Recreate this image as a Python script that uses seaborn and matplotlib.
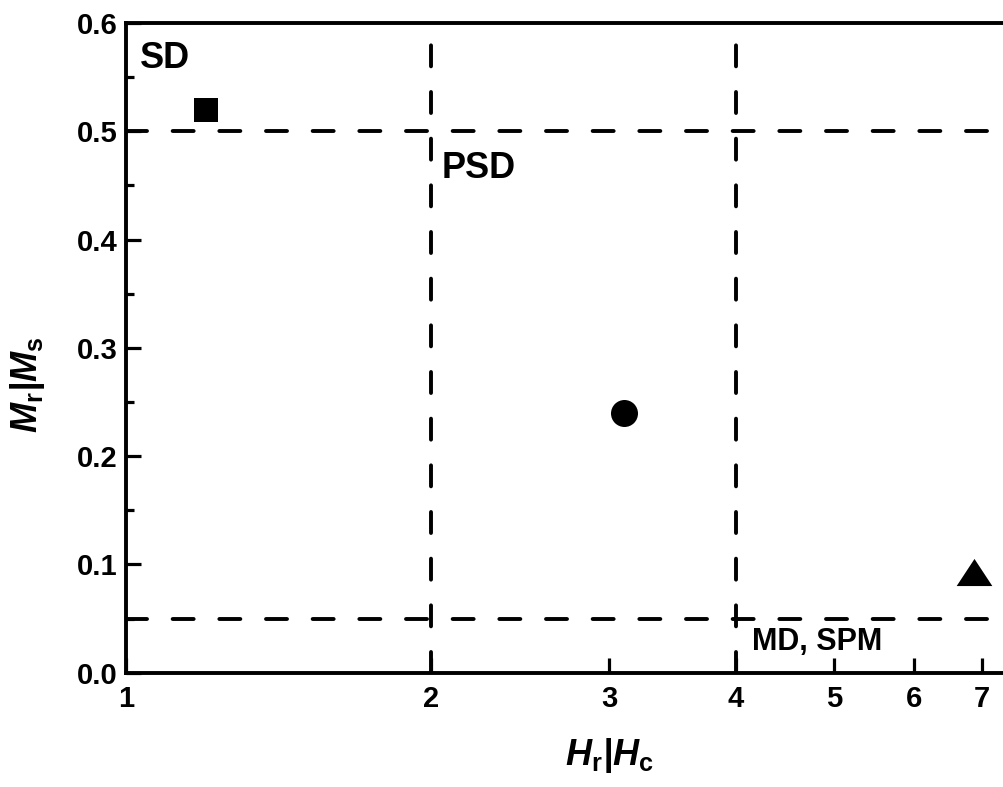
import matplotlib
matplotlib.use("Agg")
import matplotlib.pyplot as plt
from matplotlib.ticker import FixedLocator, NullLocator, MultipleLocator, FormatStrFormatter
import seaborn as sns
import pandas as pd

# Day-plot data: coercivity ratio vs remanence ratio for three samples
hr_hc = [1.2, 3.1, 6.87]
mr_ms = [0.52, 0.24, 0.093]
sample = ["square", "circle", "triangle"]

# domain-state boundaries
hr_hc_limits = [2, 4]
mr_ms_limits = [0.5, 0.05]

# region labels
region_names = ["SD", "PSD", "MD, SPM"]
region_x = [1.032, 2.05, 4.145]
region_y = [0.558, 0.457, 0.021]
region_size = [26, 26, 22]

x_ticks = [1, 2, 3, 4, 5, 6, 7]
y_ticks = [0.0, 0.1, 0.2, 0.3, 0.4, 0.5, 0.6]

sns.set_theme(style="ticks")
plt.rcParams["font.family"] = ["Liberation Sans", "DejaVu Sans"]
plt.rcParams["font.weight"] = "bold"
plt.rcParams["text.color"] = "black"
plt.rcParams["axes.labelcolor"] = "black"
plt.rcParams["xtick.color"] = "black"
plt.rcParams["ytick.color"] = "black"
plt.rcParams["mathtext.fontset"] = "custom"
plt.rcParams["mathtext.rm"] = "Liberation Sans:bold"
plt.rcParams["mathtext.bf"] = "Liberation Sans:bold"
plt.rcParams["mathtext.it"] = "Liberation Sans:bold:italic"
plt.rcParams["mathtext.bfit"] = "Liberation Sans:bold:italic"

fig = plt.figure(figsize=(10.04, 7.87), dpi=100)
# the axis runs past the right edge of the figure
ax = fig.add_axes([126 / 1004, (787 - 672.7) / 787, 915 / 1004, 649.7 / 787])
ax.set_xscale("log")
ax.set_xlim(1, 8)
ax.set_ylim(0, 0.6)

df = pd.DataFrame({"hr_hc": hr_hc, "mr_ms": mr_ms, "sample": sample})
tri = [(0, 0.76), (-1, -0.76), (1, -0.76)]
marker_style = {"square": ("s", 275), "circle": ("o", 378), "triangle": (tri, 660)}
for name, sub in df.groupby("sample", sort=False):
    m, s = marker_style[name]
    sns.scatterplot(data=sub, x="hr_hc", y="mr_ms", marker=m, s=s, color="black",
                    linewidth=0, ax=ax, zorder=5, legend=False)

dash_kw = dict(color="black", lw=2.8, dashes=(5.4, 6.6), dash_capstyle="round", zorder=3)
for xv in hr_hc_limits:
    ax.axvline(xv, **dash_kw)
for yv in mr_ms_limits:
    ax.axhline(yv, **dash_kw)

for name, xv, yv, fs in zip(region_names, region_x, region_y, region_size):
    ax.text(xv, yv, name, fontsize=fs, fontweight="bold", va="baseline", ha="left",
            color="black")

ax.xaxis.set_major_locator(FixedLocator(x_ticks))
ax.set_xticklabels([str(t) for t in x_ticks])
ax.xaxis.set_minor_locator(NullLocator())
ax.yaxis.set_major_locator(FixedLocator(y_ticks))
ax.yaxis.set_major_formatter(FormatStrFormatter("%.1f"))
ax.yaxis.set_minor_locator(MultipleLocator(0.05))

ax.tick_params(axis="both", which="major", direction="in", length=11, width=2.3,
               labelsize=21, color="black", labelcolor="black")
ax.tick_params(axis="x", which="major", pad=9, top=False, bottom=True)
ax.tick_params(axis="y", which="major", pad=6, left=True, right=False)
ax.tick_params(axis="y", which="minor", direction="in", length=6, width=2.3, left=True, right=False)
for lab in ax.get_xticklabels() + ax.get_yticklabels():
    lab.set_fontweight("bold")

for side in ["left", "bottom", "top"]:
    ax.spines[side].set_linewidth(2.8)
    ax.spines[side].set_color("black")
ax.spines["right"].set_visible(False)

ax.set_xlabel("")
ax.set_ylabel("")
fig.text((126 + 305 * 1.585) / 1004, 1 - 765 / 787,
         r"$\mathbfit{H}_{\mathbf{r}}\mathbfit{|H}_{\mathbf{c}}$",
         fontsize=26, ha="center", va="baseline", color="black")
fig.text(28 / 1004, 1 - 385 / 787,
         r"$\mathbfit{M}_{\mathbf{r}}\mathbfit{|M}_{\mathbf{s}}$",
         fontsize=26, ha="center", va="center", rotation=90, color="black")

ax.set_facecolor("white")
fig.patch.set_facecolor("white")
fig.savefig("out.png", dpi=100)
